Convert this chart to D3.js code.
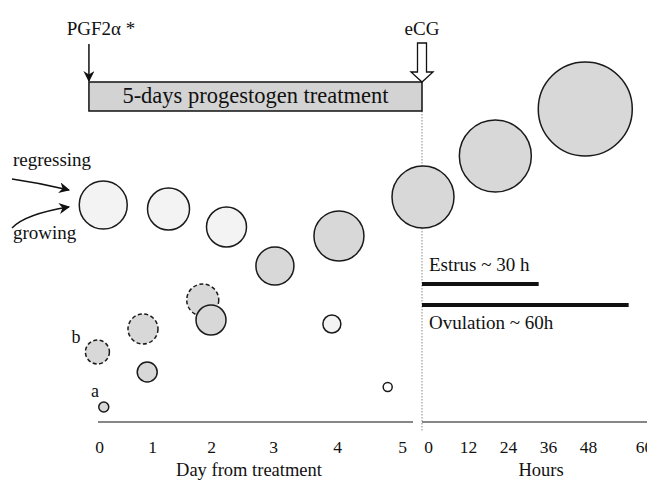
<!DOCTYPE html>
<head>
  <meta charset="utf-8" />
  <script src="https://cdn.jsdelivr.net/npm/d3@7"></script>
  <style>
    body { margin: 0; background: #fff; }
    text { font-family: "Liberation Serif", "DejaVu Serif", serif; fill: #111; }
  </style>
</head>
<body>
  <script>
    // days before eCG, hours after
    var dayTicks = [0, 1, 2, 3, 4, 5];
    var hourTicks = [0, 12, 24, 36, 48, 60];

    // follicles during treatment: [day, diameter level, size, fill, dashed]
    var dayFollicles = [
      [0.08, 8.68, 4.8, "light", 0],
      [1.28, 8.52, 4.2, "light", 0],
      [2.25, 7.8, 4.0, "light", 0],
      [3.03, 6.24, 3.8, "gray", 0],
      [4.03, 7.44, 5.0, "gray", 0],
      [1.86, 4.88, 3.2, "gray", 1],
      [2.0, 4.08, 3.0, "gray", 0],
      [0.83, 3.72, 3.0, "gray", 1],
      [-0.03, 2.8, 2.4, "gray", 1],
      [0.91, 2.0, 2.0, "gray", 0],
      [0.09, 0.6, 1.0, "gray", 0],
      [3.92, 3.92, 1.8, "light", 0],
      [4.78, 1.4, 0.9, "white", 0]
    ];
    // follicles after eCG: [hour, level, size]
    var hourFollicles = [
      [0.3, 9.0, 6.2],
      [22, 10.64, 7.2],
      [48.7, 12.52, 9.4]
    ];
    var estrusHours = 35, ovulationHours = 58;
    var treatmentStart = -0.19;

    var fills = { light: "#f3f3f3", gray: "#d8d8d8", white: "#ffffff" };

    var width = 647, height = 480;
    var svg = d3.select("body").append("svg")
      .attr("width", width).attr("height", height);

    var x = d3.scaleLinear().domain(dayTicks).range([99, 152, 211, 273, 337, 402]);
    var h = d3.scaleLinear().domain(hourTicks).range([422, 462, 502, 542, 582, 638]);
    var y = d3.scaleLinear().domain([0, 14]).range([422, 72]);
    var r = d3.scaleLinear().domain([0, 10]).range([0, 50]);

    var defs = svg.append("defs");
    defs.append("marker").attr("id", "head")
      .attr("viewBox", "0 0 10 10").attr("refX", 9).attr("refY", 5)
      .attr("markerWidth", 11).attr("markerHeight", 11).attr("orient", "auto")
      .attr("markerUnits", "userSpaceOnUse")
      .append("path").attr("d", "M0,0 L10,5 L0,10 L3,5 Z").attr("fill", "#111");

    // dotted eCG line
    svg.append("line")
      .attr("x1", h(0)).attr("x2", h(0)).attr("y1", 111).attr("y2", 432)
      .attr("stroke", "#888").attr("stroke-width", 1).attr("stroke-dasharray", "1.5,1.5");

    // treatment box
    svg.append("rect")
      .attr("x", x(treatmentStart)).attr("y", 82)
      .attr("width", h(0) - x(treatmentStart)).attr("height", 29)
      .attr("fill", "#d3d3d3").attr("stroke", "#111").attr("stroke-width", 1.5);
    svg.append("text").attr("x", (x(treatmentStart) + h(0)) / 2).attr("y", 103)
      .attr("text-anchor", "middle").attr("font-size", 22.5)
      .text("5-days progestogen treatment");

    // PGF2a arrow
    svg.append("text").attr("x", x(treatmentStart) + 12).attr("y", 35)
      .attr("text-anchor", "middle").attr("font-size", 19).text("PGF2α *");
    svg.append("line")
      .attr("x1", x(treatmentStart)).attr("x2", x(treatmentStart))
      .attr("y1", 44).attr("y2", 81)
      .attr("stroke", "#111").attr("stroke-width", 1.5).attr("marker-end", "url(#head)");

    // eCG hollow arrow
    var ax = h(0);
    svg.append("text").attr("x", ax).attr("y", 35)
      .attr("text-anchor", "middle").attr("font-size", 19).text("eCG");
    svg.append("path")
      .attr("d", d3.line()([[ax - 4.5, 43], [ax + 4.5, 43], [ax + 4.5, 72], [ax + 11, 72],
        [ax, 82], [ax - 11, 72], [ax - 4.5, 72]]) + "Z")
      .attr("fill", "#fff").attr("stroke", "#111").attr("stroke-width", 1.3);

    // regressing / growing arrows
    svg.append("text").attr("x", 13).attr("y", 166).attr("font-size", 19).text("regressing");
    svg.append("text").attr("x", 13).attr("y", 239).attr("font-size", 19).text("growing");
    svg.append("path").attr("d", "M12,179 Q40,183 69,190")
      .attr("fill", "none").attr("stroke", "#111").attr("stroke-width", 1.3)
      .attr("marker-end", "url(#head)");
    svg.append("path").attr("d", "M12,228 Q25,214 69,207")
      .attr("fill", "none").attr("stroke", "#111").attr("stroke-width", 1.3)
      .attr("marker-end", "url(#head)");

    svg.append("text").attr("x", 76).attr("y", 343).attr("font-size", 18)
      .attr("text-anchor", "middle").text("b");
    svg.append("text").attr("x", 95).attr("y", 397).attr("font-size", 18)
      .attr("text-anchor", "middle").text("a");

    // follicles
    svg.append("g").selectAll("circle").data(dayFollicles).enter().append("circle")
      .attr("cx", d => x(d[0])).attr("cy", d => y(d[1])).attr("r", d => r(d[2]))
      .attr("fill", d => fills[d[3]]).attr("stroke", "#1a1a1a")
      .attr("stroke-width", 1.5)
      .attr("stroke-dasharray", d => d[4] ? "4,2.5" : null);

    svg.append("g").selectAll("circle").data(hourFollicles).enter().append("circle")
      .attr("cx", d => h(d[0])).attr("cy", d => y(d[1])).attr("r", d => r(d[2]))
      .attr("fill", fills.gray).attr("stroke", "#1a1a1a").attr("stroke-width", 1.5);

    // estrus / ovulation bars
    svg.append("line").attr("x1", h(0)).attr("x2", h(estrusHours))
      .attr("y1", 284).attr("y2", 284).attr("stroke", "#111").attr("stroke-width", 4);
    svg.append("line").attr("x1", h(0)).attr("x2", h(ovulationHours))
      .attr("y1", 305).attr("y2", 305).attr("stroke", "#111").attr("stroke-width", 4);
    svg.append("text").attr("x", h(0) + 7).attr("y", 271).attr("font-size", 19).text("Estrus ~ 30 h");
    svg.append("text").attr("x", h(0) + 7).attr("y", 329).attr("font-size", 19).text("Ovulation ~ 60h");

    // axes
    svg.append("line").attr("x1", x(0) - 1).attr("x2", x(5.17))
      .attr("y1", 422).attr("y2", 422).attr("stroke", "#111").attr("stroke-width", 1.2);
    svg.append("line").attr("x1", h(0)).attr("x2", width)
      .attr("y1", 422).attr("y2", 422).attr("stroke", "#111").attr("stroke-width", 1.2);

    var gx = svg.append("g").attr("transform", "translate(0,438)")
      .call(d3.axisBottom(x).tickValues(dayTicks).tickSize(0).tickFormat(d3.format("d")));
    var gh = svg.append("g").attr("transform", "translate(0,438)")
      .call(d3.axisBottom(h).tickValues(hourTicks).tickSize(0).tickFormat(d3.format("d")));
    [gx, gh].forEach(g => {
      g.select(".domain").remove();
      g.selectAll("text").attr("font-size", 17.5).attr("font-family", "Liberation Serif").attr("fill", "#111");
    });
    gh.selectAll("text").attr("dx", 6);

    svg.append("text").attr("x", 249).attr("y", 476).attr("text-anchor", "middle")
      .attr("font-size", 18.5).text("Day from treatment");
    svg.append("text").attr("x", 541).attr("y", 476).attr("text-anchor", "middle")
      .attr("font-size", 18.5).text("Hours");
  </script>
</body>
